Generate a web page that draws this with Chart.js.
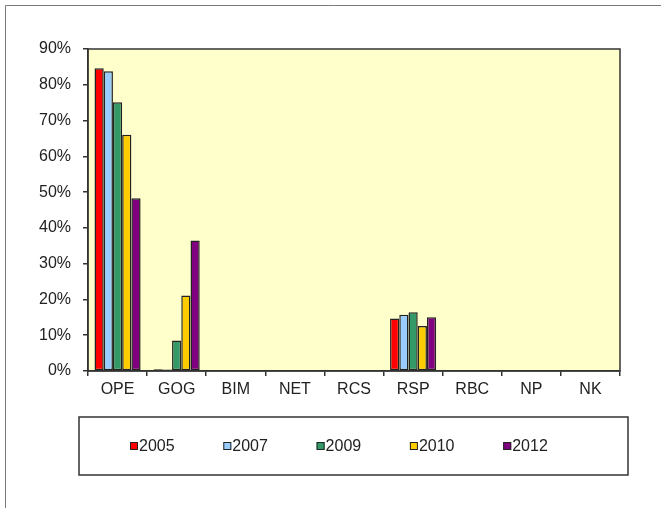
<!DOCTYPE html>
<html>
<head>
<meta charset="utf-8">
<script src="https://cdn.jsdelivr.net/npm/chart.js@4"></script>
<style>
html,body{margin:0;padding:0;background:#fff;}
canvas{display:block;}
</style>
</head>
<body>
<canvas id="c" width="661" height="508"></canvas>
<script>
const categories = ["OPE","GOG","BIM","NET","RCS","RSP","RBC","NP","NK"];
const seriesNames = ["2005","2007","2009","2010","2012"];
const s2005 = [84.6, 0.5, 0, 0, 0, 14.7, 0, 0, 0];
const s2007 = [83.8, 0.4, 0, 0, 0, 15.7, 0, 0, 0];
const s2009 = [75.1, 8.5, 0, 0, 0, 16.4, 0, 0, 0];
const s2010 = [66.0, 21.1, 0, 0, 0, 12.6, 0, 0, 0];
const s2012 = [48.3, 36.5, 0, 0, 0, 15.0, 0, 0, 0];
const colors = ["#FF0000","#99CCFF","#339966","#FFCC00","#800080"];
const yTicks = [0,10,20,30,40,50,60,70,80,90];

const FONT = "'Liberation Sans',Arial,sans-serif";
const FSIZE = 16;
const allSeries = [s2005,s2007,s2009,s2010,s2012];

const framePlugin = {
  id:'frame',
  beforeDraw(chart){
    const ctx = chart.ctx, a = chart.chartArea;
    ctx.save();
    ctx.fillStyle = '#fff';
    ctx.fillRect(0,0,chart.width,chart.height);
    ctx.strokeStyle = '#7a7a7a';
    ctx.lineWidth = 1;
    ctx.beginPath();
    ctx.moveTo(5.5, chart.height);
    ctx.lineTo(5.5, 5.5);
    ctx.lineTo(chart.width, 5.5);
    ctx.stroke();
    ctx.fillStyle = '#FFFFCC';
    ctx.fillRect(a.left, a.top, a.right-a.left, a.bottom-a.top);
    ctx.restore();
  },
  afterDatasetsDraw(chart){
    const ctx = chart.ctx, a = chart.chartArea;
    ctx.save();
    ctx.strokeStyle = '#333';
    ctx.lineWidth = 1.5;
    ctx.strokeRect(a.left, a.top, a.right-a.left, a.bottom-a.top);
    ctx.restore();
  },
  afterDraw(chart){
    const ctx = chart.ctx;
    ctx.save();
    ctx.strokeStyle = '#333';
    ctx.lineWidth = 1.5;
    ctx.strokeRect(79, 417, 549, 58);
    ctx.font = FSIZE + 'px ' + FONT;
    ctx.textBaseline = 'middle';
    chart.data.datasets.forEach((ds,i)=>{
      const x = 130 + i*93.3, y = 446;
      ctx.fillStyle = ds.backgroundColor;
      ctx.fillRect(x, y-4, 8, 8);
      ctx.strokeStyle = '#222';
      ctx.lineWidth = 1;
      ctx.strokeRect(x+0.5, y-3.5, 7, 7);
      ctx.fillStyle = '#222';
      ctx.fillText(ds.label, x+9, y+1);
    });
    ctx.restore();
  }
};

new Chart(document.getElementById('c'), {
  type:'bar',
  data:{
    labels: categories,
    datasets: seriesNames.map((n,i)=>({
      label:n,
      data:allSeries[i],
      backgroundColor:colors[i],
      borderColor:'#222',
      borderWidth:1.5,
      borderSkipped:false,
      categoryPercentage:0.78,
      barPercentage:1.0
    }))
  },
  options:{
    responsive:false,
    animation:false,
    devicePixelRatio:1,
    layout:{padding:{left:0, top:49, right:41, bottom:107}},
    plugins:{legend:{display:false}, tooltip:{enabled:false}},
    scales:{
      x:{
        afterFit(s){ s.height = 30; },
        grid:{offset:true, drawOnChartArea:false, tickLength:5, color:'#333', lineWidth:1.5},
        border:{display:true, color:'#333', width:1.5},
        ticks:{font:{family:FONT, size:FSIZE}, color:'#222', padding:4, maxRotation:0, autoSkip:false}
      },
      y:{
        min:0, max:90,
        afterFit(s){ s.width = 88; },
        afterBuildTicks(s){ s.ticks = yTicks.map(v=>({value:v})); },
        grid:{drawOnChartArea:false, tickLength:5, color:'#333', lineWidth:1.5},
        border:{display:true, color:'#333', width:1.5},
        ticks:{font:{family:FONT, size:FSIZE}, color:'#222', padding:12, callback:v=>v+'%'}
      }
    }
  },
  plugins:[framePlugin]
});
</script>
</body>
</html>
